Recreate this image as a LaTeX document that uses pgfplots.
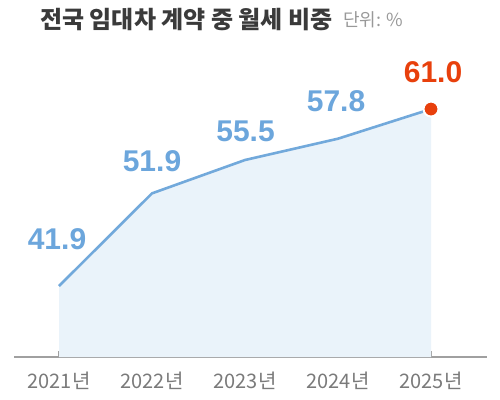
\documentclass[border=0pt]{standalone}
\usepackage{pgfplots}
\pgfplotsset{compat=1.18}
\usepackage{fontspec}
\setmainfont{Noto Sans CJK KR}
\newfontfamily\numfont{Liberation Sans}

\definecolor{titlegray}{HTML}{3A3A3A}
\definecolor{unitgray}{HTML}{999999}
\definecolor{tickgray}{HTML}{7A7A7A}
\definecolor{axisgray}{HTML}{A0A0A0}
\definecolor{lineblue}{HTML}{72A9DB}
\definecolor{labelblue}{HTML}{6CA6DC}
\definecolor{areablue}{HTML}{EAF3FA}
\definecolor{hotred}{HTML}{E8400C}

\begin{document}
\begin{tikzpicture}
  \useasboundingbox (0,0) rectangle (500bp,400bp);
  \begin{axis}[
      at={(14bp,43bp)}, anchor=south west,
      scale only axis,
      width=473bp, height=327bp,
      xmin=2020.516, xmax=2025.602,
      ymin=34.24, ymax=69.53,
      axis x line=bottom, axis y line=none,
      x axis line style={-, draw=axisgray, line width=1.3bp},
      xtick={2021,2022,2023,2024,2025},
      xticklabels={2021년,2022년,2023년,2024년,2025년},
      tick align=inside,
      major tick length=6bp,
      tick style={draw=axisgray, line width=1.1bp},
      ytick=\empty,
      xticklabel style={font=\fontsize{20bp}{22bp}\selectfont, text=tickgray, yshift=-15bp},
      tick label style={inner sep=0pt},
      clip=false,
    ]
    \addplot[fill=areablue, draw=none] coordinates {
      (2021,41.9) (2022,51.9) (2023,55.5) (2024,57.8) (2025,61.0)
    } \closedcycle;
    \addplot[draw=lineblue, line width=2.6bp] coordinates {
      (2021,41.9) (2022,51.9) (2023,55.5) (2024,57.8) (2025,61.0)
    };
    \addplot[only marks, mark=*, mark size=7.5bp,
      mark options={fill=hotred, draw=white, line width=2bp}] coordinates {
      (2025,61.0)
    };
    \begin{scope}[every node/.style={font=\numfont\fontsize{30bp}{32bp}\bfseries\selectfont, text=labelblue, inner sep=0pt}]
      \node[xshift=-2bp, yshift=47bp] at (axis cs:2021,41.9) {41.9};
      \node[yshift=32bp] at (axis cs:2022,51.9) {51.9};
      \node[xshift=0.5bp, yshift=29bp] at (axis cs:2023,55.5) {55.5};
      \node[xshift=-2bp, yshift=38bp] at (axis cs:2024,57.8) {57.8};
      \node[xshift=2bp, yshift=37bp, text=hotred] at (axis cs:2025,61.0) {61.0};
    \end{scope}
  \end{axis}
  \node[anchor=west, inner sep=0pt, text=titlegray,
    font=\fontsize{24bp}{26bp}\bfseries\selectfont] at (40bp,380bp) {전국 임대차 계약 중 월세 비중};
  \node[anchor=west, inner sep=0pt, text=unitgray,
    font=\fontsize{18bp}{20bp}\selectfont] at (343bp,380bp) {단위: \%};
\end{tikzpicture}
\end{document}
